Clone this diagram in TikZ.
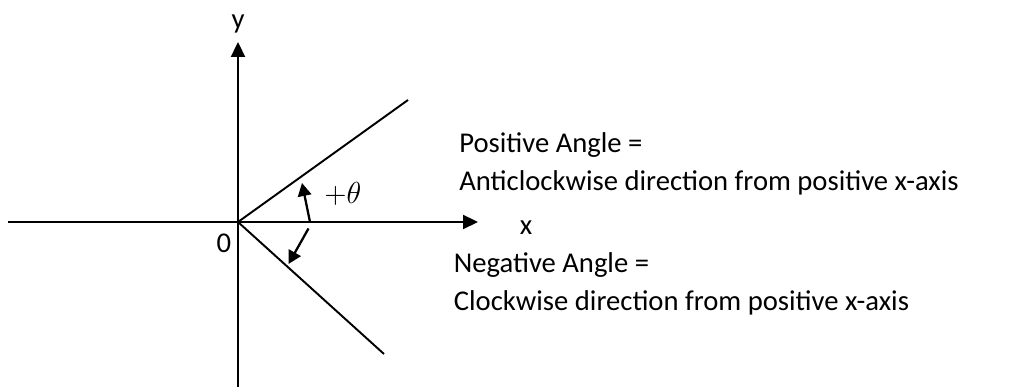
\documentclass[tikz,border=0pt]{standalone}
\usepackage{fontspec}
\setmainfont{Carlito}
\usetikzlibrary{arrows.meta}
\usetikzlibrary{positioning}

\begin{document}
\begin{tikzpicture}[
		ax/.style = {-{Triangle[length=0.3cm, width=0.28cm]}, line width=1.3pt},
		ray/.style = {line width=1.1pt},
		turn/.style = {-{Triangle[length=0.26cm, width=0.27cm]}, line width=1.3pt},
		lbl/.style = {inner sep=0, font=\fontsize{16.3}{21.8}\selectfont},
		txt/.style = {lbl, align=left, anchor=base west},
		]
		\useasboundingbox (-4.76, -3.3) rectangle (15.76, 4.44);
		
		% === === Nodes === ===
		\coordinate	(O)		at	(0, 0);
		\coordinate	(xl)	at	(-4.6, 0);
		\coordinate	(xr)	at	(4.8, 0);
		\coordinate	(yb)	at	(0, -3.3);
		\coordinate	(yt)	at	(0, 3.6);
		\coordinate	(pend)	at	(3.4, 2.44);
		\coordinate	(nend)	at	(2.92, -2.64);
		\coordinate	(ps)	at	(1.44, 0);
		\coordinate	(pt)	at	(1.28, 0.78);
		\coordinate	(ns)	at	(1.41, -0.13);
		\coordinate	(nt)	at	(1.01, -0.84);
		
		\node[lbl]	(y)		at	(0, 3.96)		{y};
		\node[lbl]	(x)		at	(5.76, -0.12)	{x};
		\node[lbl]	(zero)	at	(-0.28, -0.42)	{0};
		\node[inner sep=0, font=\fontsize{16}{19}\selectfont] (theta) at (2.1, 0.56) {$+\theta$};
		\node[txt]	(pos)	at	(4.42, 0.63)	{Positive Angle =\\Anticlockwise direction from positive x-axis};
		\node[txt]	(neg)	at	(4.31, -1.78)	{Negative Angle =\\Clockwise direction from positive x-axis};
		
		% === === Lines === ===
		\draw[ax]	(xl)	--	(xr);
		\draw[ax]	(yb)	--	(yt);
		\draw[ray]	(O)		--	(pend);
		\draw[ray]	(O)		--	(nend);
		\draw[turn]	(ps)	--	(pt);
		\draw[turn]	(ns)	--	(nt);
		
\end{tikzpicture}
\end{document}
